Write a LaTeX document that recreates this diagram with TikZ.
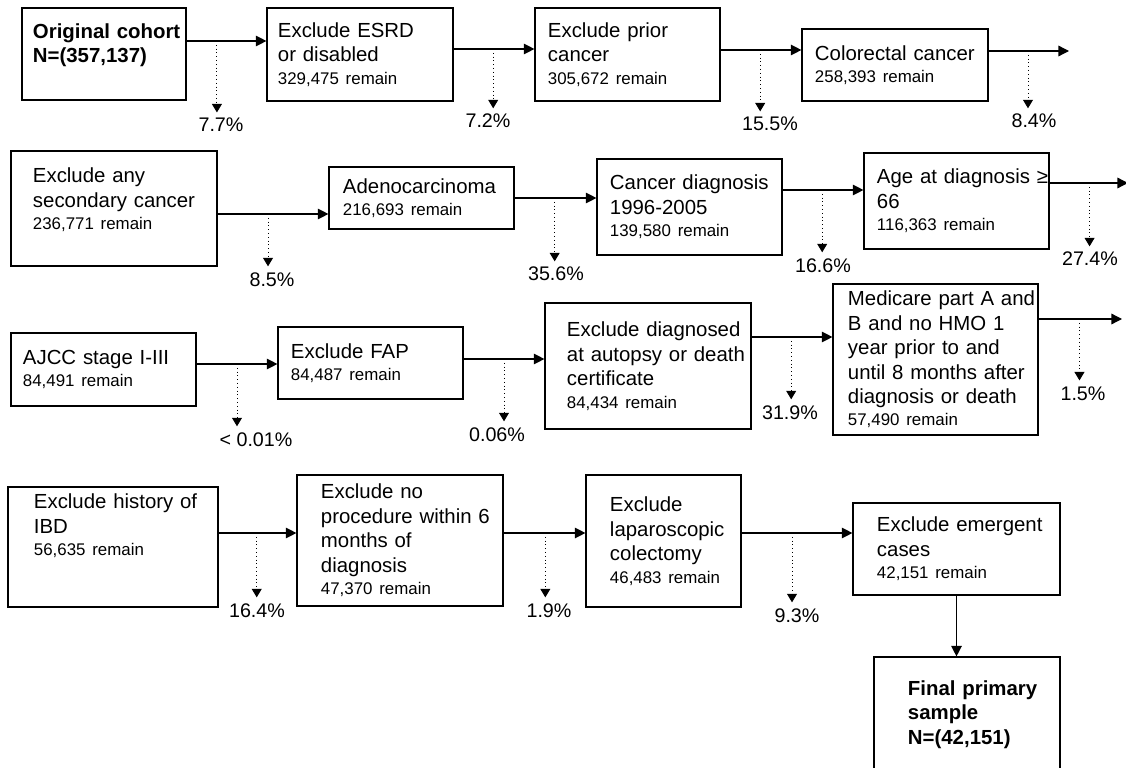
\documentclass[tikz,border=0pt]{standalone}
\usepackage{fontspec}
\setmainfont{Liberation Sans}
\usetikzlibrary{arrows.meta, positioning}
\hyphenpenalty=10000
\exhyphenpenalty=10000
\newcommand{\remainline}[1]{\\[-1.4pt]{\fontsize{12}{17.4}\selectfont #1~remain}}

\begin{document}
\begin{tikzpicture}[
    x=0.025cm, y=-0.025cm,
    box/.style={rectangle, draw=black, line width=0.8pt, align=left, inner ysep=2pt, font=\fontsize{14.5}{17.4}\selectfont},
    boldbox/.style={box, font=\fontsize{14.5}{17.4}\selectfont\bfseries},
    pct/.style={anchor=base, inner xsep=1pt, inner ysep=4pt, font=\fontsize{14}{16}\selectfont},
    flow/.style={-{Triangle[length=7.5pt, width=7.5pt]}, line width=0.9pt},
    drop/.style={-{Triangle[length=6pt, width=7pt]}, dotted, line width=0.7pt}
]
\useasboundingbox (0,0) rectangle (1126,768);

% Row 1
\node[boldbox, text width=3.55cm, inner xsep=0.275cm, minimum height=2.3cm, text depth=33pt] (orig) at (104,54) {Original~cohort\\N=(357,137)};
\node[box, text width=4.1cm, inner xsep=0.275cm, minimum height=2.325cm] (esrd) at (360,54.5) {Exclude ESRD\\or disabled\remainline{329,475}};
\node[box, text width=3.975cm, inner xsep=0.325cm, minimum height=2.325cm] (prior) at (627.5,54.5) {Exclude prior\\cancer\remainline{305,672}};
\node[box, text width=4.0cm, inner xsep=0.325cm, minimum height=1.8cm] (colo) at (895,65) {Colorectal~cancer\remainline{258,393}};
\coordinate (e1) at (1069,51);

% Row 2
\node[box, text width=4.05cm, inner xsep=0.55cm, minimum height=2.875cm, text depth=47pt] (second) at (114,208.5) {Exclude any\\secondary~cancer\remainline{236,771}};
\node[box, text width=3.925cm, inner xsep=0.35cm, minimum height=1.55cm] (adeno) at (421.5,198) {Adenocarcinoma\remainline{216,693}};
\node[box, text width=3.975cm, inner xsep=0.325cm, minimum height=2.4cm] (diag) at (689.5,207) {Cancer~diagnosis\\1996-2005\remainline{139,580}};
\node[box, text width=3.975cm, inner xsep=0.325cm, minimum height=2.4cm] (age) at (956.5,201) {Age~at~diagnosis~≥\\66\remainline{116,363}};
\coordinate (e2) at (1128,183);

% Row 3
\node[box, text width=4.025cm, inner xsep=0.3cm, minimum height=1.825cm] (ajcc) at (103.5,369.5) {AJCC stage I-III\remainline{84,491}};
\node[box, text width=3.975cm, inner xsep=0.325cm, minimum height=1.8cm] (fap) at (370.5,363) {Exclude FAP\remainline{84,487}};
\node[box, text width=4.05cm, inner xsep=0.55cm, minimum height=3.15cm] (autopsy) at (648,366) {Exclude~diagnosed\\at~autopsy~or~death\\certificate\remainline{84,434}};
\node[box, text width=4.375cm, inner xsep=0.375cm, minimum height=3.775cm] (medicare) at (935.5,359.5) {Medicare~part~A~and\\B and no HMO 1\\year prior to and\\until~8~months~after\\diagnosis~or~death\remainline{57,490}};
\coordinate (e3) at (1122,319);

% Row 4
\node[box, text width=3.95cm, inner xsep=0.65cm, minimum height=3.0cm, text depth=65pt] (ibd) at (113,547) {Exclude~history~of\\IBD\remainline{56,635}};
\node[box, text width=3.95cm, inner xsep=0.6cm, minimum height=3.275cm] (noproc) at (400,540.5) {Exclude no\\procedure~within~6\\months of\\diagnosis\remainline{47,370}};
\node[box, text width=2.675cm, inner xsep=0.6cm, minimum height=3.3cm] (lap) at (663.5,541) {Exclude\\laparoscopic\\colectomy\remainline{46,483}};
\node[box, text width=3.975cm, inner xsep=0.6cm, minimum height=2.3cm] (emerg) at (956.5,549) {Exclude~emergent\\cases\remainline{42,151}};

% Final sample
\node[boldbox, text width=2.95cm, inner xsep=0.85cm, minimum height=2.875cm] (final) at (967,714.5) {Final~primary\\sample\\N=(42,151)};

% Flow arrows
\draw[flow] (orig.east |- 0,41) -- coordinate[pos=.38] (d1) (esrd.west |- 0,41);
\draw[flow] (esrd.east |- 0,49) -- coordinate[pos=.49] (d2) (prior.west |- 0,49);
\draw[flow] (prior.east |- 0,50) -- coordinate[pos=.49] (d3) (colo.west |- 0,50);
\draw[flow] (colo.east |- e1) -- coordinate[pos=.49] (d4) (e1);
\draw[flow] (second.east |- 0,214) -- coordinate[pos=.455] (d5) (adeno.west |- 0,214);
\draw[flow] (adeno.east |- 0,198) -- coordinate[pos=.49] (d6) (diag.west |- 0,198);
\draw[flow] (diag.east |- 0,190) -- coordinate[pos=.49] (d7) (age.west |- 0,190);
\draw[flow] (age.east |- e2) -- coordinate[pos=.51] (d8) (e2);
\draw[flow] (ajcc.east |- 0,364) -- coordinate[pos=.5] (d9) (fap.west |- 0,364);
\draw[flow] (fap.east |- 0,359) -- coordinate[pos=.5] (d10) (autopsy.west |- 0,359);
\draw[flow] (autopsy.east |- 0,337) -- coordinate[pos=.49] (d11) (medicare.west |- 0,337);
\draw[flow] (medicare.east |- e3) -- coordinate[pos=.49] (d12) (e3);
\draw[flow] (ibd.east |- 0,533) -- coordinate[pos=.49] (d13) (noproc.west |- 0,533);
\draw[flow] (noproc.east |- 0,533) -- coordinate[pos=.51] (d14) (lap.west |- 0,533);
\draw[flow] (lap.east |- 0,533) -- coordinate[pos=.455] (d15) (emerg.west |- 0,533);
\draw[flow] (emerg.south) -- (final.north -| emerg.south);

% Exclusion percentages
\node[pct] (p1) at (221,132) {7.7\%};
\node[pct] (p2) at (488,128) {7.2\%};
\node[pct] (p3) at (770,131) {15.5\%};
\node[pct] (p4) at (1034,128) {8.4\%};
\node[pct] (p5) at (272,286) {8.5\%};
\node[pct] (p6) at (556,281) {35.6\%};
\node[pct] (p7) at (823,272) {16.6\%};
\node[pct] (p8) at (1090,266) {27.4\%};
\node[pct] (p9) at (256,446) {< 0.01\%};
\node[pct] (p10) at (497,441) {0.06\%};
\node[pct] (p11) at (790,419) {31.9\%};
\node[pct] (p12) at (1083,400) {1.5\%};
\node[pct] (p13) at (257,617) {16.4\%};
\node[pct] (p14) at (549,617) {1.9\%};
\node[pct] (p15) at (797,622) {9.3\%};

\foreach \i in {1,...,15}
    \draw[drop] (d\i) -- (d\i |- p\i.north);

\end{tikzpicture}
\end{document}
